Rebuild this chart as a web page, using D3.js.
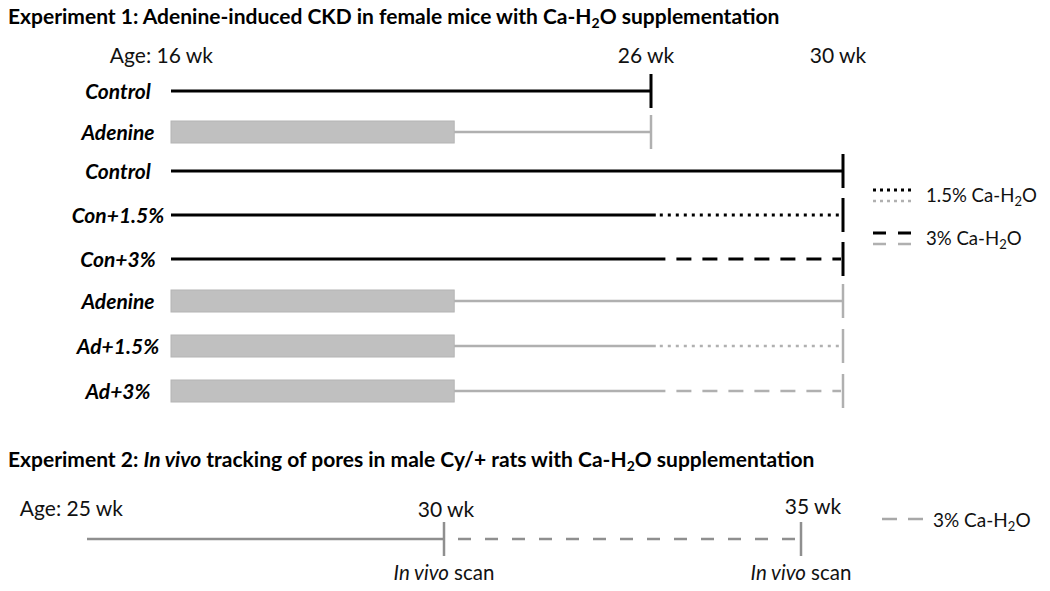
<!DOCTYPE html>
<html><head><meta charset="utf-8">
<script src="https://cdn.jsdelivr.net/npm/d3@7"></script>
<style>
html,body{margin:0;padding:0;background:#fff;}
svg{display:block;font-family:Lato,"Open Sans",sans-serif;}
</style></head>
<body>
<svg id="chart" width="1050" height="591"></svg>
<script>
// ---------- DATA ----------
// Experiment 1
const rowIds      = ["r1","r2","r3","r4","r5","r6","r7","r8"];
const rowLabels   = ["Control","Adenine","Control","Con+1.5%","Con+3%","Adenine","Ad+1.5%","Ad+3%"];
const rowGroups   = ["control","adenine","control","control","control","adenine","adenine","adenine"];
const rowStart    = [16,16,16,16,16,16,16,16];
const rowEnd      = [26,26,30,30,30,30,30,30];
const adenineEnd  = [null,21.9,null,null,null,21.9,21.9,21.9];
const suppStart   = [null,null,null,26.1,26.3,null,26.1,26.3];
const suppDose    = [null,null,null,"1.5%","3%",null,"1.5%","3%"];
const exp1Weeks   = [16,26,30];
const exp1WeekLabels = ["Age: 16 wk","26 wk","30 wk"];
const exp1Legend  = ["1.5%","3%"];
// Experiment 2
const exp2Start   = 25;
const exp2SuppStart = 30;
const exp2End     = 35;
const exp2Weeks   = [25,30,35];
const exp2WeekLabels = ["Age: 25 wk","30 wk","35 wk"];
const exp2Scans   = [30,35];

// ---------- STYLE ----------
const BLACK = "#000", GRAY = "#b0b0b0", BAR = "#c0c0c0", BARSTROKE="#b4b4b4", GRAY2 = "#8f8f8f";
const dash = {"1.5%":"3,5","3%":"15,11"};

const svg = d3.select("#chart");

// ---------- TITLES ----------
svg.append("text").attr("x",8).attr("y",24).attr("font-size",21).attr("font-weight","bold")
  .call(t=>{
    t.append("tspan").text("Experiment 1: Adenine-induced CKD in female mice with Ca-H");
    t.append("tspan").attr("font-size",14).attr("dy",4).text("2");
    t.append("tspan").attr("dy",-4).text("O supplementation");
  });

svg.append("text").attr("x",8).attr("y",467).attr("font-size",21).attr("font-weight","bold")
  .call(t=>{
    t.append("tspan").text("Experiment 2: ");
    t.append("tspan").attr("font-style","italic").text("In vivo");
    t.append("tspan").text(" tracking of pores in male Cy/+ rats with Ca-H");
    t.append("tspan").attr("font-size",14).attr("dy",4).text("2");
    t.append("tspan").attr("dy",-4).text("O supplementation");
  });

// ---------- EXPERIMENT 1 ----------
const x1 = d3.scaleLinear().domain([16,30]).range([171,843]);
const y1 = d3.scaleOrdinal().domain(rowIds).range([91,132,171,215,259,301,346,391]);
const rows = rowIds.map((id,i)=>({id,label:rowLabels[i],group:rowGroups[i],start:rowStart[i],end:rowEnd[i],
  adEnd:adenineEnd[i],supp:suppStart[i],dose:suppDose[i]}));
const colorOf = d => d.group==="control"?BLACK:GRAY;
const widthOf = d => d.group==="control"?3:2.5;

// week labels
svg.selectAll(".wk1").data(exp1Weeks).join("text")
  .attr("class","wk1")
  .attr("x",(d,i)=> i===0 ? x1(d)+42 : x1(d)-5)
  .attr("y",63)
  .attr("text-anchor",(d,i)=> i===0?"end":"middle")
  .attr("font-size",21).attr("fill","#111")
  .text((d,i)=>exp1WeekLabels[i]);

// row labels
svg.selectAll(".rlab").data(rows).join("text")
  .attr("class","rlab")
  .attr("x",118).attr("y",d=>y1(d.id)).attr("dy","0.36em")
  .attr("text-anchor","middle").attr("font-size",21)
  .attr("font-weight","bold").attr("font-style","italic").attr("fill","#000")
  .text(d=>d.label);

// adenine bars
svg.selectAll(".bar").data(rows.filter(d=>d.adEnd!=null)).join("rect")
  .attr("class","bar")
  .attr("x",d=>x1(d.start)).attr("width",d=>x1(d.adEnd)-x1(d.start))
  .attr("y",d=>y1(d.id)-11).attr("height",22)
  .attr("fill",BAR).attr("stroke",BARSTROKE).attr("stroke-width",1);

// solid lines
svg.selectAll(".solid").data(rows).join("line")
  .attr("class","solid")
  .attr("x1",d=>x1(d.adEnd!=null?d.adEnd:d.start))
  .attr("x2",d=>x1(d.supp!=null?d.supp:d.end))
  .attr("y1",d=>y1(d.id)).attr("y2",d=>y1(d.id))
  .attr("stroke",colorOf).attr("stroke-width",widthOf);

// supplementation lines
svg.selectAll(".supp").data(rows.filter(d=>d.supp!=null)).join("line")
  .attr("class","supp")
  .attr("x1",d=>x1(d.supp)).attr("x2",d=>x1(d.end)-2)
  .attr("y1",d=>y1(d.id)).attr("y2",d=>y1(d.id))
  .attr("stroke",colorOf).attr("stroke-width",widthOf)
  .attr("stroke-dasharray",d=>dash[d.dose])
  .attr("stroke-dashoffset",d=>d.dose==="3%"?15:-4);

// end ticks
svg.selectAll(".endtick").data(rows).join("line")
  .attr("class","endtick")
  .attr("x1",d=>x1(d.end)).attr("x2",d=>x1(d.end))
  .attr("y1",d=>y1(d.id)-17).attr("y2",d=>y1(d.id)+17)
  .attr("stroke",colorOf).attr("stroke-width",d=>d.group==="control"?3:2.5);

// legend exp1
const leg1 = svg.selectAll(".leg1").data(exp1Legend).join("g")
  .attr("class","leg1")
  .attr("transform",(d,i)=>`translate(873,${[190,233][i]})`);
leg1.append("line").attr("x1",0).attr("x2",40).attr("y1",0).attr("y2",0)
  .attr("stroke",BLACK).attr("stroke-width",3).attr("stroke-dasharray",d=>d==="3%"?"13,12":"3,4");
leg1.append("line").attr("x1",0).attr("x2",40).attr("y1",11).attr("y2",11)
  .attr("stroke",GRAY).attr("stroke-width",2.5).attr("stroke-dasharray",d=>d==="3%"?"13,12":"3,4");
leg1.append("text").attr("x",53).attr("y",12).attr("font-size",18.6).attr("fill","#111")
  .call(t=>{
    t.append("tspan").text(d=>d+" Ca-H");
    t.append("tspan").attr("font-size",13).attr("dy",4).text("2");
    t.append("tspan").attr("dy",-4).text("O");
  });

// ---------- EXPERIMENT 2 ----------
const x2 = d3.scaleLinear().domain([25,35]).range([87,801]);
const y2 = 539;

svg.selectAll(".wk2").data(exp2Weeks).join("text")
  .attr("class","wk2")
  .attr("x",(d,i)=> i===0 ? x2(d)+36 : x2(d)+[0,2,12][i])
  .attr("y",(d,i)=>[516,517,514][i])
  .attr("text-anchor",(d,i)=> i===0?"end":"middle")
  .attr("font-size",21).attr("fill","#111")
  .text((d,i)=>exp2WeekLabels[i]);

svg.append("line").attr("x1",x2(exp2Start)).attr("x2",x2(exp2SuppStart))
  .attr("y1",y2).attr("y2",y2).attr("stroke",GRAY2).attr("stroke-width",2.5);
svg.append("line").attr("x1",x2(exp2SuppStart)).attr("x2",x2(exp2End))
  .attr("y1",y2).attr("y2",y2).attr("stroke",GRAY2).attr("stroke-width",2.5)
  .attr("stroke-dasharray","13,14").attr("stroke-dashoffset",13);

svg.selectAll(".scantick").data(exp2Scans).join("line")
  .attr("class","scantick")
  .attr("x1",d=>x2(d)).attr("x2",d=>x2(d))
  .attr("y1",y2-17).attr("y2",y2+17)
  .attr("stroke",GRAY2).attr("stroke-width",2.5);

svg.selectAll(".scanlab").data(exp2Scans).join("text")
  .attr("class","scanlab")
  .attr("x",d=>x2(d)).attr("y",580).attr("text-anchor","middle")
  .attr("font-size",20.5).attr("fill","#111")
  .call(t=>{
    t.append("tspan").attr("font-style","italic").text("In vivo");
    t.append("tspan").text(" scan");
  });

// legend exp2
const leg2 = svg.append("g").attr("transform","translate(882,519)");
leg2.append("line").attr("x1",0).attr("x2",41).attr("y1",0).attr("y2",0)
  .attr("stroke","#a8a8a8").attr("stroke-width",2.5).attr("stroke-dasharray","15,11");
leg2.append("text").attr("x",51).attr("y",8).attr("font-size",19).attr("fill","#111")
  .call(t=>{
    t.append("tspan").text("3% Ca-H");
    t.append("tspan").attr("font-size",13).attr("dy",4).text("2");
    t.append("tspan").attr("dy",-4).text("O");
  });
</script>
</body></html>
